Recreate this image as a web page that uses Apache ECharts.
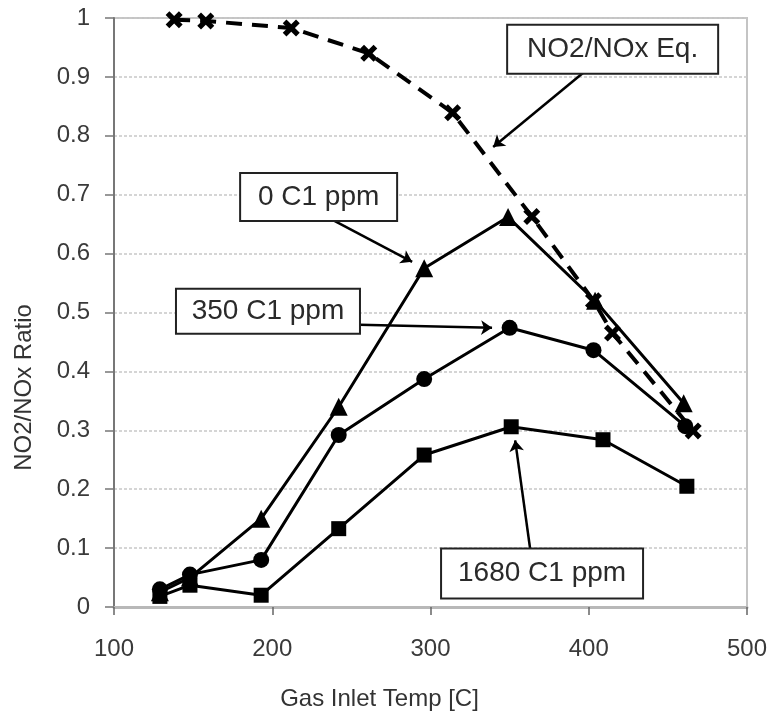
<!DOCTYPE html>
<html>
<head>
<meta charset="utf-8">
<script src="https://cdn.jsdelivr.net/npm/echarts@6/dist/echarts.min.js"></script>
<style>
  html, body { margin: 0; padding: 0; background: #fff; }
  #chart { width: 769px; height: 712px; }
</style>
</head>
<body>
<div id="chart"></div>
<script>
// axis ticks
const xTicks = [100, 200, 300, 400, 500];
const yTicks = [0, 0.1, 0.2, 0.3, 0.4, 0.5, 0.6, 0.7, 0.8, 0.9, 1];

// 0 C1 ppm (triangles)
const temp0 = [129, 148, 193, 242, 296, 349, 404, 460];
const ratio0 = [0.025, 0.05, 0.15, 0.34, 0.575, 0.662, 0.52, 0.346];

// 350 C1 ppm (circles)
const temp350 = [129, 148, 193, 242, 296, 350, 403, 461];
const ratio350 = [0.03, 0.055, 0.08, 0.292, 0.387, 0.474, 0.436, 0.307];

// 1680 C1 ppm (squares)
const temp1680 = [129, 148, 193, 242, 296, 351, 409, 462];
const ratio1680 = [0.018, 0.037, 0.02, 0.133, 0.258, 0.306, 0.284, 0.205];

// equilibrium NO2/NOx (dashed, crosses)
const tempEq = [138, 158, 212, 261, 314, 364, 403, 415, 466];
const ratioEq = [0.997, 0.995, 0.983, 0.94, 0.839, 0.663, 0.52, 0.465, 0.299];

// callout boxes and arrows, in data units
const noteText = ['NO2/NOx Eq.', '0 C1 ppm', '350 C1 ppm', '1680 C1 ppm'];
const noteAt = [[415.1, 0.947], [229.3, 0.696], [197.3, 0.502], [370.5, 0.057]];
const arrowFrom = [[396.5, 0.907], [238.4, 0.657], [254.9, 0.479], [363, 0.098]];
const arrowTo = [[339.6, 0.781], [288.4, 0.586], [338.9, 0.474], [353.5, 0.283]];
const noteBox = [[209, 47], [155, 46], [182, 43], [200, 48]];

const FONT = "'Liberation Sans', Arial, sans-serif";
const CROSS = 'path://M0,3.5 L3.5,0 L8,4.5 L12.5,0 L16,3.5 L11.5,8 L16,12.5 L12.5,16 L8,11.5 L3.5,16 L0,12.5 L4.5,8 Z';

const zip = (xs, ys) => xs.map((x, i) => [x, ys[i]]);

const chart = echarts.init(document.getElementById('chart'));

function dataSeries(name, xs, ys, symbol, size, extra) {
  return Object.assign({
    name,
    type: 'line',
    data: zip(xs, ys),
    symbol,
    symbolSize: size,
    showAllSymbol: true,
    itemStyle: { color: '#000' },
    lineStyle: { color: '#000', width: 3 },
    emphasis: { disabled: true },
  }, extra || {});
}

const option = {
  animation: false,
  backgroundColor: '#fff',
  grid: {
    left: 114, right: 22, top: 18, bottom: 105,
    outerBoundsMode: 'none',
    containLabel: false,
    show: true, borderColor: '#c4c4c4', borderWidth: 2,
  },
  xAxis: {
    type: 'value',
    min: xTicks[0],
    max: xTicks[xTicks.length - 1],
    interval: xTicks[1] - xTicks[0],
    name: 'Gas Inlet Temp [C]',
    nameLocation: 'middle',
    nameGap: 80,
    nameTextStyle: { fontFamily: FONT, fontSize: 24, color: '#333', padding: [0, 102, 0, 0] },
    axisLine: { lineStyle: { color: '#b8b8b8', width: 3 } },
    axisTick: { length: 8, lineStyle: { color: '#666', width: 1.5 } },
    axisLabel: { fontFamily: FONT, fontSize: 24, color: '#3a3a3a', margin: 30 },
    splitLine: { show: false },
  },
  yAxis: {
    type: 'value',
    min: yTicks[0],
    max: yTicks[yTicks.length - 1],
    interval: 0.1,
    name: 'NO2/NOx Ratio',
    nameLocation: 'middle',
    nameRotate: 90,
    nameGap: 78,
    nameTextStyle: { fontFamily: FONT, fontSize: 24, color: '#333', padding: [0, 150, 0, 0] },
    axisLine: { show: true, lineStyle: { color: '#777', width: 2 } },
    axisTick: { show: true, length: 9, lineStyle: { color: '#777', width: 1.5 } },
    axisLabel: { fontFamily: FONT, fontSize: 24, color: '#3a3a3a', margin: 24 },
    splitLine: { show: true, lineStyle: { color: '#c8c8c8', width: 1.5, type: [3, 2] } },
  },
  series: [
    dataSeries('1680 C1 ppm', temp1680, ratio1680, 'rect', 15),
    dataSeries('350 C1 ppm', temp350, ratio350, 'circle', 16),
    dataSeries('0 C1 ppm', temp0, ratio0, 'triangle', 18),
    dataSeries('NO2/NOx Eq.', tempEq, ratioEq, CROSS, 17, {
      lineStyle: { color: '#000', width: 4, type: [16, 10] },
    }),
    {
      name: 'notes',
      type: 'line',
      data: [],
      silent: true,
      markLine: {
        silent: true,
        symbol: ['none', 'arrow'],
        symbolSize: 11,
        label: { show: false },
        lineStyle: { color: '#000', width: 2.5, type: 'solid', opacity: 1 },
        data: arrowFrom.map((a, i) => [{ coord: a }, { coord: arrowTo[i] }]),
      },
      markPoint: {
        silent: true,
        symbol: 'rect',
        symbolSize: 0,
        data: noteText.map((t, i) => ({
          name: t,
          coord: noteAt[i],
          label: {
            show: true,
            position: 'inside',
            formatter: t,
            width: noteBox[i][0],
            height: noteBox[i][1],
            lineHeight: noteBox[i][1],
            align: 'center',
            verticalAlign: 'middle',
            backgroundColor: '#fff',
            borderColor: '#222',
            borderWidth: 2,
            fontFamily: FONT,
            fontSize: 28,
            color: '#2a2a2a',
          },
        })),
      },
    },
  ],
};

chart.setOption(option);
</script>
</body>
</html>
